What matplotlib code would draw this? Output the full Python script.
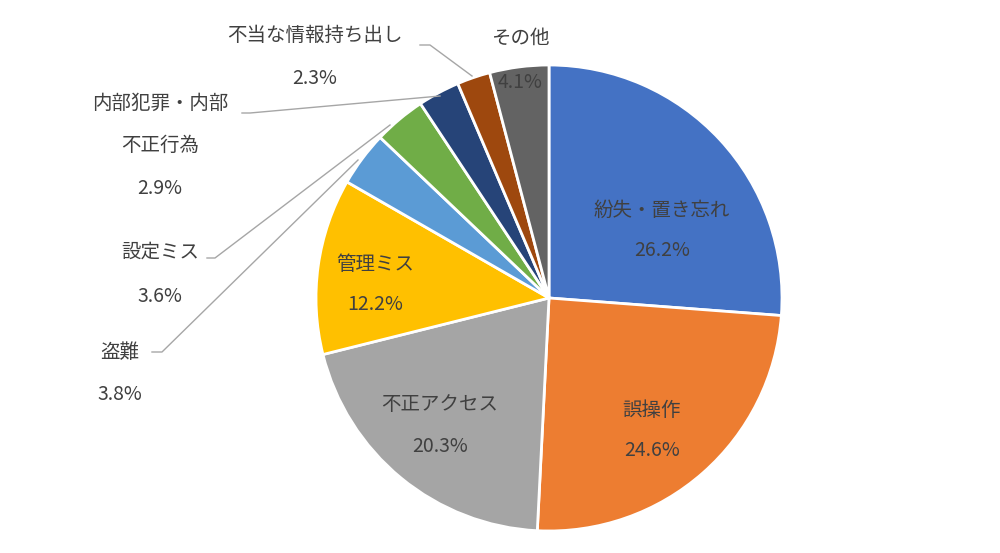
import matplotlib.pyplot as plt

labels = ["紛失・置き忘れ", "誤操作", "不正アクセス", "管理ミス", "盗難",
          "設定ミス", "内部犯罪・内部\n不正行為", "不当な情報持ち出し", "その他"]
values = [26.2, 24.6, 20.3, 12.2, 3.8, 3.6, 2.9, 2.3, 4.1]
colors = ["#4472C4", "#ED7D31", "#A5A5A5", "#FFC000", "#5B9BD5",
          "#70AD47", "#264478", "#9E480E", "#636363"]

H = 553


def main():
    plt.rcParams["font.family"] = "Noto Sans CJK JP"
    fig = plt.figure(figsize=(10, 5.53), dpi=100)
    ax = fig.add_axes([0, 0, 1, 1])
    ax.set_xlim(0, 1000)
    ax.set_ylim(0, H)
    ax.set_aspect("equal")
    ax.axis("off")

    ax.pie(values, colors=colors, startangle=90, counterclock=False,
           center=(549, H - 298), radius=233,
           wedgeprops=dict(edgecolor="white", linewidth=2))
    ax.set_xlim(0, 1000)
    ax.set_ylim(0, H)

    # label positions in image pixel coords (x, y of name, y of percentage)
    pos = {
        0: (662, 210, 250),
        1: (652, 410, 450),
        2: (440, 405, 447),
        3: (375, 265, 305),
        8: (520, 38, 82),
        7: (315, 35, 78),
        5: (160, 252, 297),
        4: (120, 352, 395),
    }
    for i, (x, y1, y2) in pos.items():
        ax.text(x, H - y1, labels[i], ha="center", va="center", fontsize=14, color="#404040")
        ax.text(x, H - y2, f"{values[i]}%", ha="center", va="center", fontsize=14, color="#404040")
    ax.text(160, H - 103, "内部犯罪・内部", ha="center", va="center", fontsize=14, color="#404040")
    ax.text(160, H - 145, "不正行為", ha="center", va="center", fontsize=14, color="#404040")
    ax.text(160, H - 188, f"{values[6]}%", ha="center", va="center", fontsize=14, color="#404040")

    lc = "#A6A6A6"
    leaders = [
        [(420, 45), (430, 45), (472, 76)],
        [(242, 113), (250, 113), (440, 96)],
        [(207, 258), (215, 258), (390, 125)],
        [(152, 352), (162, 352), (358, 160)],
    ]
    for pts in leaders:
        ax.plot([p[0] for p in pts], [H - p[1] for p in pts], color=lc, lw=1)

    fig.savefig("out.png", dpi=100)


if __name__ == '__main__':
    main()
